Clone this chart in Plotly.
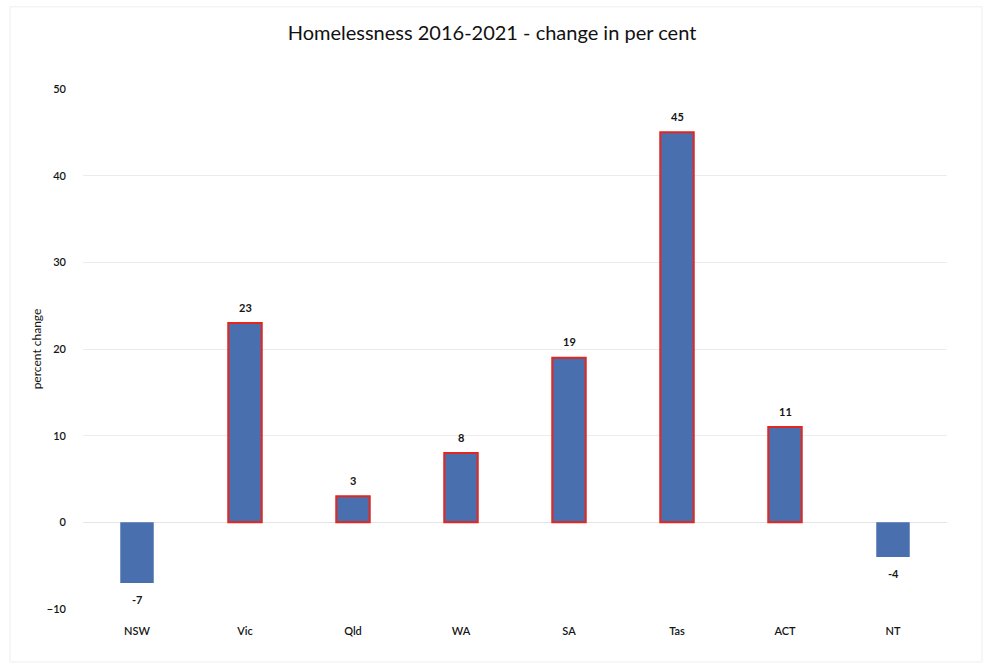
import plotly.graph_objects as go

# Homelessness change by state/territory, 2016 to 2021
states = ["NSW", "Vic", "Qld", "WA", "SA", "Tas", "ACT", "NT"]
pct_change = [-7, 23, 3, 8, 19, 45, 11, -4]
y_ticks = [-10, 0, 10, 20, 30, 40, 50]

BAR_BLUE = "#4a6fae"
OUTLINE_RED = "#e3261e"
TEXT_DARK = "#151515"
FONT = "Lato, Open Sans, sans-serif"

outline_colors = [OUTLINE_RED if v > 0 else BAR_BLUE for v in pct_change]
outline_widths = [2 if v > 0 else 0 for v in pct_change]

fig = go.Figure(
    go.Bar(
        x=states,
        y=pct_change,
        width=0.31,
        marker=dict(
            color=BAR_BLUE,
            line=dict(color=outline_colors, width=outline_widths),
        ),
        hoverinfo="x+y",
    )
)

# value labels sit a little clear of each bar end
for s, v in zip(states, pct_change):
    fig.add_annotation(
        x=s, y=v, text=f"<b>{v}</b>", showarrow=False,
        yshift=16 if v >= 0 else -16,
        font=dict(family=FONT, size=11, color=TEXT_DARK),
    )

fig.update_layout(
    width=984,
    height=666,
    paper_bgcolor="#ffffff",
    plot_bgcolor="#ffffff",
    margin=dict(l=83, r=37, t=89, b=57),
    showlegend=False,
    title=dict(
        text="Homelessness 2016-2021 - change in per cent",
        x=0.5,
        xanchor="center",
        y=0.95,
        yanchor="middle",
        font=dict(family=FONT, size=20, color="#111111"),
    ),
    font=dict(family=FONT, size=11, color=TEXT_DARK),
    xaxis=dict(
        showgrid=False,
        showline=False,
        ticks="",
        tickfont=dict(family=FONT, size=11, color=TEXT_DARK, weight=600),
        ticklabelstandoff=14,
    ),
    yaxis=dict(
        range=[-10, 50],
        tickvals=y_ticks,
        showgrid=True,
        gridcolor="#ececec",
        gridwidth=1,
        zeroline=True,
        zerolinecolor="#e4e4e4",
        zerolinewidth=1,
        showline=False,
        ticks="",
        ticklabelstandoff=16,
        tickfont=dict(family=FONT, size=11, color=TEXT_DARK, weight=600),
        title=dict(text="percent change", font=dict(family=FONT, size=12, color=TEXT_DARK), standoff=2),
    ),
    shapes=[
        dict(
            type="rect", xref="paper", yref="paper",
            x0=-0.0845, x1=1.0405, y0=-0.102, y1=1.158,
            line=dict(color="#eeeeee", width=1),
            fillcolor="rgba(0,0,0,0)", layer="below",
        )
    ],
)

fig.write_html("out.html")
